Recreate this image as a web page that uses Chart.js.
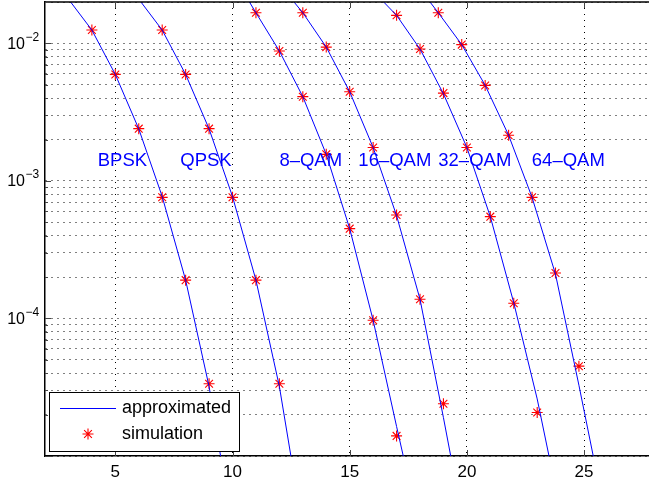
<!DOCTYPE html>
<html>
<head>
<meta charset="utf-8">
<title>BER curves</title>
<script src="https://cdn.jsdelivr.net/npm/chart.js@4.4.1/dist/chart.umd.min.js"></script>
<style>
  html, body { margin: 0; padding: 0; background: #fff; overflow: hidden; }
  #wrap { width: 649px; height: 487px; }
</style>
</head>
<body>
<div id="wrap"><canvas id="ber-chart" width="649" height="487"></canvas></div>
<script>
const schemes = ["BPSK", "QPSK", "8–QAM", "16–QAM", "32–QAM", "64–QAM"];

// simulated BER (red stars), x = SNR in dB
const simSnr = [
  [4, 5, 6, 7, 8, 9],
  [7, 8, 9, 10, 11, 12],
  [11, 12, 13, 14, 15, 16, 17],
  [13, 14, 15, 16, 17, 18, 19],
  [17, 18, 19, 20, 21, 22, 23],
  [18.78, 19.78, 20.78, 21.78, 22.78, 23.78, 24.78],
];
const simBer = [
  [1.25e-2, 5.95e-3, 2.4e-3, 7.6e-4, 1.9e-4, 3.35e-5],
  [1.25e-2, 5.95e-3, 2.4e-3, 7.6e-4, 1.9e-4, 3.35e-5],
  [1.67e-2, 8.8e-3, 4.1e-3, 1.56e-3, 4.5e-4, 9.7e-5, 1.4e-5],
  [1.67e-2, 9.4e-3, 4.45e-3, 1.75e-3, 5.65e-4, 1.38e-4, 2.4e-5],
  [1.6e-2, 9.1e-3, 4.35e-3, 1.75e-3, 5.5e-4, 1.29e-4, 2.07e-5],
  [1.67e-2, 9.8e-3, 4.95e-3, 2.15e-3, 7.6e-4, 2.14e-4, 4.5e-5],
];

// approximated BER (blue lines), one step past each end so they run off the axes
const fitSnr = [
  [3, 4, 5, 6, 7, 8, 9, 10],
  [6, 7, 8, 9, 10, 11, 12, 13],
  [10, 11, 12, 13, 14, 15, 16, 17, 18],
  [12, 13, 14, 15, 16, 17, 18, 19, 20],
  [16, 17, 18, 19, 20, 21, 22, 23, 24],
  [17.78, 18.78, 19.78, 20.78, 21.78, 22.78, 23.78, 24.78, 25.78],
];
const fitBer = [
  [2.1e-2, 1.25e-2, 5.95e-3, 2.39e-3, 7.7e-4, 1.9e-4, 3.2e-5, 3e-6],
  [2.1e-2, 1.25e-2, 5.95e-3, 2.39e-3, 7.7e-4, 1.9e-4, 3.2e-5, 3e-6],
  [3.2e-2, 1.67e-2, 8.8e-3, 4.1e-3, 1.56e-3, 4.5e-4, 9.7e-5, 1.64e-5, 2.9e-6],
  [2.7e-2, 1.67e-2, 9.4e-3, 4.45e-3, 1.75e-3, 5.6e-4, 1.38e-4, 1.9e-5, 2.4e-6],
  [2.4e-2, 1.6e-2, 9.1e-3, 4.3e-3, 1.75e-3, 5.5e-4, 1.3e-4, 2.6e-5, 3.9e-6],
  [2.78e-2, 1.67e-2, 9.8e-3, 4.96e-3, 2.15e-3, 7.6e-4, 2.1e-4, 3.27e-5, 4.7e-6],
];

// where the scheme names sit (left edge, vertical middle)
const labelSnr = [4.25, 7.77, 12.0, 15.37, 18.78, 22.77];
const labelBer = 1.4e-3;

const xTicks = [5, 10, 15, 20, 25];
const yDecades = [-4, -3, -2];
const legendLabels = ["approximated", "simulation"];

const blue = "rgb(0,0,255)";
const red = "rgb(255,0,0)";
const fontFamily = '"Liberation Sans", Arial, Helvetica, sans-serif';

Chart.defaults.font.family = fontFamily;
Chart.defaults.color = "#000";

const datasets = [];
schemes.forEach((name, i) => {
  datasets.push({
    label: legendLabels[0],
    data: fitSnr[i].map((x, j) => ({ x, y: fitBer[i][j] })),
    showLine: true,
    borderColor: blue,
    borderWidth: 1,
    pointRadius: 0,
    pointHoverRadius: 0,
  });
  datasets.push({
    label: legendLabels[1],
    data: simSnr[i].map((x, j) => ({ x, y: simBer[i][j] })),
    showLine: false,
    pointStyle: "star",
    pointRadius: 5.5,
    borderColor: red,
    backgroundColor: red,
    borderWidth: 1.1,
  });
});

// box edge, inward ticks, tick labels (with exponents), curve names, legend box
const decorations = {
  id: "decorations",
  afterDraw(chart) {
    const { ctx, chartArea: a } = chart;
    const x = chart.scales.x;
    const y = chart.scales.y;
    ctx.save();

    ctx.strokeStyle = "#000";
    ctx.lineWidth = 1.5;
    ctx.beginPath();
    ctx.moveTo(a.left, a.top);
    ctx.lineTo(a.right + 2, a.top);
    ctx.stroke();

    ctx.lineWidth = 1;
    ctx.strokeStyle = "#444";
    ctx.beginPath();
    xTicks.forEach((v) => {
      const px = Math.round(x.getPixelForValue(v)) + 0.5;
      ctx.moveTo(px, a.bottom);
      ctx.lineTo(px, a.bottom - 6);
      ctx.moveTo(px, a.top);
      ctx.lineTo(px, a.top + 6);
    });
    y.ticks.forEach((t) => {
      const py = Math.round(y.getPixelForValue(t.value)) + 0.5;
      const major = Math.abs(Math.log10(t.value) % 1) < 1e-9;
      ctx.moveTo(a.left, py);
      ctx.lineTo(a.left + (major ? 6 : 3), py);
    });
    ctx.stroke();

    ctx.fillStyle = "#000";
    ctx.textBaseline = "middle";
    ctx.font = "17px " + fontFamily;
    ctx.textAlign = "center";
    xTicks.forEach((v) => {
      ctx.fillText(String(v), x.getPixelForValue(v), a.bottom + 16.5);
    });
    yDecades.forEach((d) => {
      const py = y.getPixelForValue(Math.pow(10, d));
      ctx.font = "16px " + fontFamily;
      ctx.textAlign = "right";
      ctx.fillText("10", 25, py + 1);
      ctx.font = "12px " + fontFamily;
      ctx.textAlign = "left";
      ctx.fillText("−" + Math.abs(d), 25.5, py - 6);
    });

    ctx.fillStyle = blue;
    ctx.font = "18.5px " + fontFamily;
    ctx.textAlign = "left";
    schemes.forEach((name, i) => {
      ctx.fillText(name, x.getPixelForValue(labelSnr[i]), y.getPixelForValue(labelBer));
    });

    // legend box in the lower left corner of the axes
    const bx = a.left + 4, by = a.bottom - 64, bw = 190, bh = 59;
    ctx.fillStyle = "#fff";
    ctx.fillRect(bx, by, bw, bh);
    ctx.strokeStyle = "#000";
    ctx.lineWidth = 1;
    ctx.strokeRect(bx + 0.5, by + 0.5, bw, bh);

    ctx.strokeStyle = blue;
    ctx.beginPath();
    ctx.moveTo(bx + 11, by + 16.5);
    ctx.lineTo(bx + 67, by + 16.5);
    ctx.stroke();

    ctx.strokeStyle = red;
    ctx.lineWidth = 1.1;
    const mx = bx + 39, my = by + 42, r = 5.5, d = r * Math.SQRT1_2;
    ctx.beginPath();
    ctx.moveTo(mx - r, my); ctx.lineTo(mx + r, my);
    ctx.moveTo(mx, my - r); ctx.lineTo(mx, my + r);
    ctx.moveTo(mx - d, my - d); ctx.lineTo(mx + d, my + d);
    ctx.moveTo(mx - d, my + d); ctx.lineTo(mx + d, my - d);
    ctx.stroke();

    ctx.fillStyle = "#000";
    ctx.font = "18px " + fontFamily;
    ctx.fillText(legendLabels[0], bx + 73, by + 16.5);
    ctx.fillText(legendLabels[1], bx + 73, by + 42);

    ctx.restore();
  },
};

const ctx = document.getElementById("ber-chart").getContext("2d");
const berChart = new Chart(ctx, {
  type: "scatter",
  data: { datasets },
  options: {
    responsive: false,
    animation: false,
    devicePixelRatio: 1,
    layout: { autoPadding: false, padding: { left: 45, top: 2, right: 0, bottom: 31 } },
    plugins: { legend: { display: false }, tooltip: { enabled: false } },
    scales: {
      x: {
        type: "linear",
        min: 2,
        max: 27.77,
        afterBuildTicks: (scale) => {
          scale.ticks = xTicks.map((v) => ({ value: v }));
        },
        ticks: { display: false },
        grid: { color: "#000", lineWidth: 1, drawTicks: false },
        border: { color: "#000", width: 1.5, dash: [1, 5] },
      },
      y: {
        type: "logarithmic",
        min: 1e-5,
        max: 2e-2,
        afterBuildTicks: (scale) => {
          const ticks = [];
          for (let e = -5; e <= -2; e++) {
            for (let m = 1; m <= 9; m++) {
              const v = m * Math.pow(10, e);
              if (v <= 2e-2 + 1e-12) ticks.push({ value: v });
            }
          }
          scale.ticks = ticks;
        },
        ticks: { display: false },
        grid: { color: "#000", lineWidth: 1, drawTicks: false },
        border: { color: "#000", width: 1.5, dash: [1, 5] },
      },
    },
  },
  plugins: [decorations],
});
</script>
</body>
</html>
